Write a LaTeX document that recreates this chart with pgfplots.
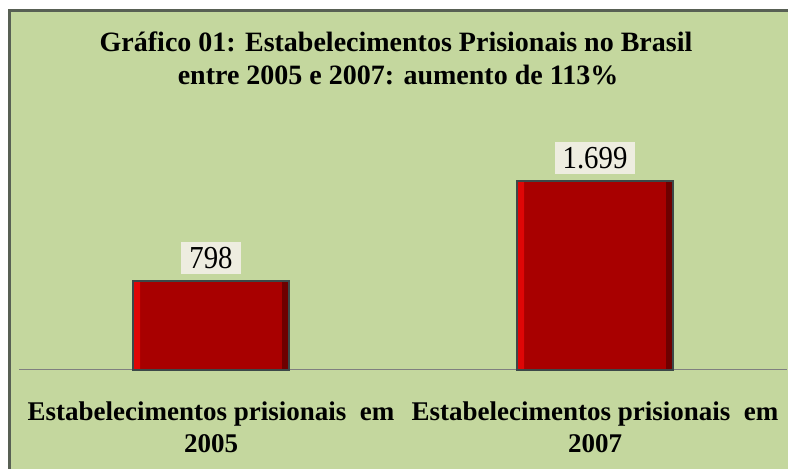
\documentclass[border=0pt]{standalone}
\usepackage{pgfplots}
\pgfplotsset{compat=1.18}
\usepackage{fontspec}
\setmainfont{Liberation Serif}
\newfontfamily\numfont[FakeStretch=0.9]{Liberation Serif}
\definecolor{bggreen}{RGB}{196,215,158}
\definecolor{framegrey}{RGB}{88,96,84}
\definecolor{barred}{RGB}{168,0,0}
\definecolor{barlight}{RGB}{222,6,6}
\definecolor{bardark}{RGB}{110,0,0}
\definecolor{baredge}{RGB}{60,72,72}
\definecolor{labelbg}{RGB}{238,237,224}
\begin{document}
\begin{tikzpicture}[x=1bp,y=1bp]
\useasboundingbox (0,0) rectangle (788,469);
\clip (0,0) rectangle (788,469);
\fill[framegrey] (8,-10) rectangle (800,460);
\fill[bggreen] (11,-10) rectangle (800,457);
\node[anchor=base, font={\bfseries\fontsize{28bp}{32bp}\selectfont}] at (396,417) {Gráfico 01: Estabelecimentos Prisionais no Brasil};
\node[anchor=base, font={\bfseries\fontsize{28bp}{32bp}\selectfont}] at (398,384) {entre 2005 e 2007: aumento de 113\%};
\begin{axis}[
  at={(19bp,99bp)}, anchor=south west,
  scale only axis, width=768bp, height=222.6bp,
  xmin=-0.5, xmax=1.5, ymin=0, ymax=2000,
  axis x line=bottom, axis y line=none,
  x axis line style={draw=gray, line width=1bp, -},
  xtick={0,1}, xtick style={draw=none},
  xticklabels={{Estabelecimentos prisionais~~em\\2005},{Estabelecimentos prisionais~~em\\2007}},
  xticklabel style={anchor=north, yshift=-24bp, align=center, font={\bfseries\fontsize{27bp}{32bp}\selectfont}},
  ytick=\empty,
  clip=false,
  ybar,
  point meta=explicit symbolic,
]
% main bar body
\addplot[fill=barred, draw=none, bar width=156bp, bar shift=0bp] coordinates {(0,798) [798] (1,1699) [1.699]};
% left light bevel strip
\addplot[fill=barlight, draw=none, bar width=7bp, bar shift=-74.5bp] coordinates {(0,798) [798] (1,1699) [1.699]};
% right dark bevel strip
\addplot[fill=bardark, draw=none, bar width=7bp, bar shift=74.5bp] coordinates {(0,798) [798] (1,1699) [1.699]};
% outline and value labels
\addplot[fill=none, draw=baredge, line width=2.5bp, bar width=156bp, bar shift=0bp,
  nodes near coords,
  every node near coord/.append style={fill=labelbg, inner xsep=8bp, inner ysep=5bp, anchor=south, yshift=6bp, font={\numfont\fontsize{32bp}{32bp}\selectfont}},
] coordinates {(0,798) [798] (1,1699) [1.699]};
\end{axis}
\end{tikzpicture}
\end{document}
